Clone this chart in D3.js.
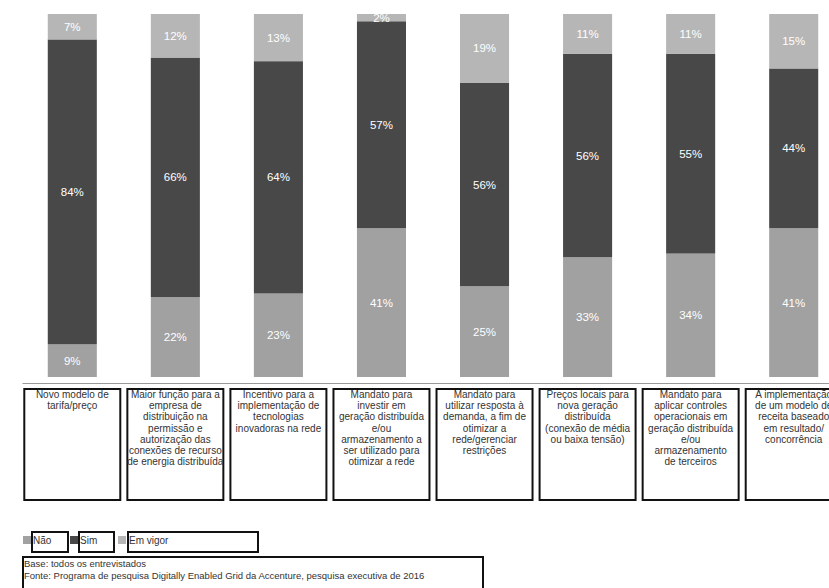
<!DOCTYPE html>
<html>
<head>
<meta charset="utf-8">
<script src="https://cdn.jsdelivr.net/npm/d3@7"></script>
<style>
  body { margin: 0; background: #fff; }
  svg { display: block; font-family: "Liberation Sans", Arial, sans-serif; }
</style>
</head>
<body>
<svg id="chart" width="829" height="588"></svg>
<script>
// categories, one array of lines per bar
const categories = [
    ["Novo modelo de", "tarifa/preço"],
    ["Maior função para a", "empresa de", "distribuição na", "permissão e", "autorização das", "conexões de recurso", "de energia distribuída"],
    ["Incentivo para a", "implementação de", "tecnologias", "inovadoras na rede"],
    ["Mandato para", "investir em", "geração distribuída", "e/ou", "armazenamento a", "ser utilizado para", "otimizar a rede"],
    ["Mandato para", "utilizar resposta à", "demanda, a fim de", "otimizar a", "rede/gerenciar", "restrições"],
    ["Preços locais para", "nova geração", "distribuída", "(conexão de média", "ou baixa tensão)"],
    ["Mandato para", "aplicar controles", "operacionais em", "geração distribuída", "e/ou", "armazenamento", "de terceiros"],
    ["A implementação", "de um modelo de", "receita baseado", "em resultado/", "concorrência"]
];
const seriesNames = ["Não", "Sim", "Em vigor"];
const nao = [9, 22, 23, 41, 25, 33, 34, 41];
const sim = [84, 66, 64, 57, 56, 56, 55, 44];
const emVigor = [7, 12, 13, 2, 19, 11, 11, 15];
const notes = [
    "Base: todos os entrevistados",
    "Fonte: Programa de pesquisa Digitally Enabled Grid da Accenture, pesquisa executiva de 2016"
];

const colors = { "Não": "#a1a1a1", "Sim": "#484848", "Em vigor": "#b6b6b6" };

const rows = categories.map((c, i) => ({ id: i, "Não": nao[i], "Sim": sim[i], "Em vigor": emVigor[i] }));

const svg = d3.select("#chart");

const x = d3.scaleBand()
    .domain(rows.map(d => d.id))
    .range([22, 844])
    .paddingInner(0.524)
    .paddingOuter(0.25);

const y = d3.scaleLinear()
    .domain([0, 100])
    .range([377, 14]);

const stacked = d3.stack().keys(seriesNames)(rows);

const layer = svg.append("g")
    .selectAll("g")
    .data(stacked)
    .join("g")
    .attr("fill", d => colors[d.key]);

layer.selectAll("rect")
    .data(d => d)
    .join("rect")
    .attr("x", d => x(d.data.id))
    .attr("width", x.bandwidth())
    .attr("y", d => y(d[1]))
    .attr("height", d => y(d[0]) - y(d[1]));

layer.selectAll("text")
    .data(d => d)
    .join("text")
    .attr("x", d => x(d.data.id) + x.bandwidth() / 2)
    .attr("y", d => (y(d[0]) + y(d[1])) / 2 + 4)
    .attr("text-anchor", "middle")
    .attr("fill", "#fff")
    .attr("font-size", 11.5)
    .text(d => (d[1] - d[0]) + "%");

// baseline
svg.append("g")
    .attr("transform", "translate(0,383)")
    .call(d3.axisBottom(x).tickSize(0).tickFormat(""))
    .call(g => g.select(".domain").attr("stroke", "#999").attr("stroke-width", 1));

// category boxes
const boxW = 96, boxTop = 389, boxH = 111;
const cat = svg.append("g")
    .selectAll("g")
    .data(categories)
    .join("g")
    .attr("transform", (d, i) => `translate(${x(i) + x.bandwidth() / 2},0)`);

cat.append("rect")
    .attr("x", -boxW / 2)
    .attr("y", boxTop)
    .attr("width", boxW)
    .attr("height", boxH)
    .attr("fill", "none")
    .attr("stroke", "#111")
    .attr("stroke-width", 2);

cat.append("text")
    .attr("text-anchor", "middle")
    .attr("font-size", 10)
    .attr("fill", "#333")
    .selectAll("tspan")
    .data(d => d)
    .join("tspan")
    .attr("x", 0)
    .attr("y", (d, i) => boxTop + 9 + i * 11.2)
    .text(d => d);

// legend
const legendItems = [
    { name: "Não", sx: 23, bx: 32, bw: 36 },
    { name: "Sim", sx: 70, bx: 79, bw: 35 },
    { name: "Em vigor", sx: 118, bx: 128, bw: 130 }
];
const legend = svg.append("g");
legendItems.forEach(it => {
    legend.append("rect").attr("x", it.sx).attr("y", 536).attr("width", 8).attr("height", 8)
        .attr("fill", colors[it.name]);
    legend.append("rect").attr("x", it.bx).attr("y", 532).attr("width", it.bw).attr("height", 20)
        .attr("fill", "none").attr("stroke", "#111").attr("stroke-width", 2);
    legend.append("text").attr("x", it.bx + 1).attr("y", 544).attr("font-size", 10)
        .attr("fill", "#333").text(it.name);
});

// notes box
svg.append("rect")
    .attr("x", 23).attr("y", 557).attr("width", 460).attr("height", 40)
    .attr("fill", "none").attr("stroke", "#111").attr("stroke-width", 2);
svg.append("g")
    .selectAll("text")
    .data(notes)
    .join("text")
    .attr("x", 24)
    .attr("y", (d, i) => 567 + i * 12)
    .attr("font-size", 9.5)
    .attr("fill", "#333")
    .text(d => d);
</script>
</body>
</html>
